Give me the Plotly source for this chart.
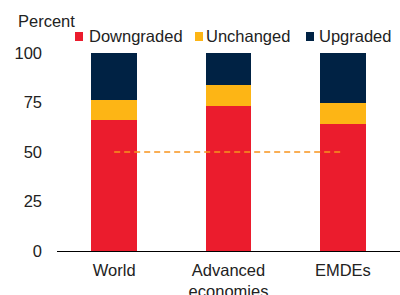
import plotly.graph_objects as go

categories = ["World", "Advanced<br>economies", "EMDEs"]
series_names = ["Downgraded", "Unchanged", "Upgraded"]
downgraded = [66, 73, 64]
unchanged = [10.5, 11, 11]
upgraded = [23.5, 16, 25]
reference_level = [50, 50, 50]
colors = ["#EB1C2D", "#FDB515", "#002244"]
y_ticks = [0, 25, 50, 75, 100]

FONT = "Liberation Sans, Arial, sans-serif"
FS = 16.5
W, H = 400, 295
ML, MR, MT, MB = 57, 0, 53, 44
pw, ph = W - ML - MR, H - MT - MB

def px(x):
    return (x - ML) / pw

def py(y):
    return (H - MB - y) / ph

fig = go.Figure()
for name, vals, col in zip(series_names, [downgraded, unchanged, upgraded], colors):
    fig.add_trace(go.Bar(x=categories, y=vals, name=name, marker=dict(color=col, line=dict(width=0)),
                         width=0.4, showlegend=False))
fig.add_trace(go.Scatter(x=categories, y=reference_level, mode="lines",
                         line=dict(color="#F7941D", width=1.5, dash="6px,4px"), showlegend=False))

# manual legend
legend_sq_x = [75, 195, 306]
legend_txt_x = [87, 204, 317]
shapes = []
annotations = []
for name, col, sx, tx in zip(series_names, colors, legend_sq_x, legend_txt_x):
    shapes.append(dict(type="rect", xref="paper", yref="paper", x0=px(sx), x1=px(sx + 8),
                       y0=py(41), y1=py(32), fillcolor=col, line=dict(width=0)))
    annotations.append(dict(text=name, xref="paper", yref="paper", x=px(tx), y=py(36),
                            xanchor="left", yanchor="middle", showarrow=False,
                            font=dict(size=FS, color="#222222", family=FONT)))
annotations.append(dict(text="Percent", xref="paper", yref="paper", x=px(16), y=py(21),
                        xanchor="left", yanchor="middle", showarrow=False,
                        font=dict(size=FS, color="#222222", family=FONT)))

fig.update_layout(
    width=W, height=H, barmode="stack",
    margin=dict(l=ML, r=MR, t=MT, b=MB, autoexpand=False),
    paper_bgcolor="white", plot_bgcolor="white",
    font=dict(family=FONT, size=FS, color="#222222"),
    shapes=shapes, annotations=annotations,
    xaxis=dict(showline=True, linecolor="#000000", linewidth=1.2, showgrid=False, automargin=False,
               ticks="", range=[-0.5, 2.5], ticklabelstandoff=4, zeroline=False),
    yaxis=dict(range=[0, 100], tickvals=y_ticks, showgrid=False, zeroline=False, automargin=False,
               showline=False, ticks="", ticklabelstandoff=14),
)
fig.write_html("out.html", config={"displayModeBar": False},
               post_script="document.body.style.margin='0';document.body.style.overflow='hidden';")
